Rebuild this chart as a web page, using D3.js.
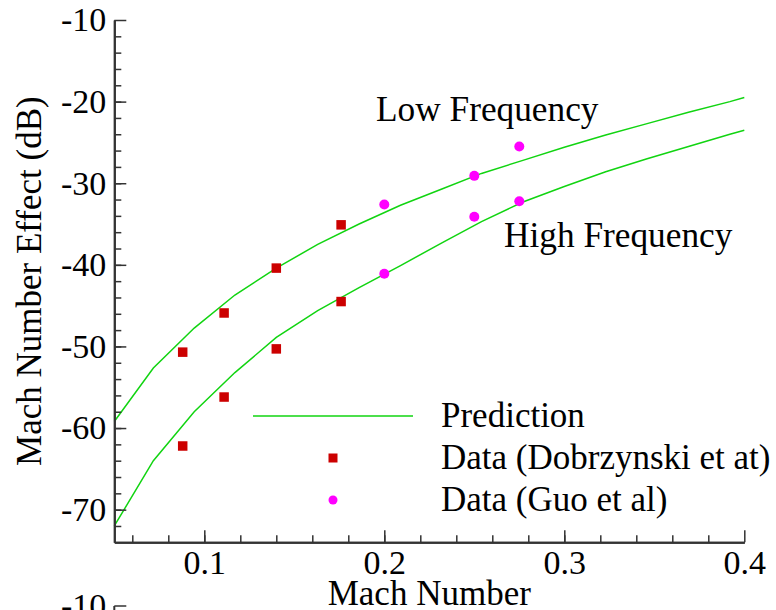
<!DOCTYPE html>
<html>
<head>
<meta charset="utf-8">
<script src="https://cdn.jsdelivr.net/npm/d3@7"></script>
<style>
  html, body { margin: 0; padding: 0; background: #fff; }
  svg { display: block; }
  text { font-family: "Liberation Serif", "Times New Roman", serif; fill: #000; }
</style>
</head>
<body>
<svg id="chart" width="776" height="610"></svg>
<script>
// Predicted Mach number effect (dB) for the two frequency bands
const machPrediction = [0.05, 0.0717, 0.0944, 0.117, 0.140, 0.163, 0.186, 0.209, 0.232, 0.254, 0.277, 0.300, 0.323, 0.346, 0.369, 0.392, 0.4];
const lowFreqPrediction = [-59.2, -52.65, -47.75, -43.7, -40.4, -37.5, -35.0, -32.7, -30.7, -28.8, -27.2, -25.6, -24.1, -22.7, -21.3, -20.0, -19.5];
const highFreqPrediction = [-72.0, -64.0, -58.0, -53.2, -48.9, -45.6, -42.8, -40.1, -37.3, -34.7, -32.3, -30.4, -28.6, -27.0, -25.5, -24.0, -23.5];

// Measurements, Dobrzynski et al
const machDobrzynski = [0.088, 0.111, 0.14, 0.176];
const lowFreqDobrzynski = [-50.7, -45.9, -40.4, -35.1];
const highFreqDobrzynski = [-62.2, -56.2, -50.3, -44.5];

// Measurements, Guo et al
const machGuo = [0.2, 0.25, 0.275];
const lowFreqGuo = [-32.6, -29.1, -25.5];
const highFreqGuo = [-41.1, -34.1, -32.2];

// Axis ticks
const xMajorTicks = [0.1, 0.2, 0.3, 0.4];
const xMinorTicks = d3.range(0.06, 0.399, 0.02);
const xTickLabels = ["0.1", "0.2", "0.3", "0.4"];
const yMajorTicks = [-10, -20, -30, -40, -50, -60, -70];
const yMinorTicks = d3.range(-12, -73, -2);
const yTickLabels = ["-10", "-20", "-30", "-40", "-50", "-60", "-70"];

const svg = d3.select("#chart");
const font = '"Liberation Serif", "Times New Roman", serif';
const axisColor = "#333";
const lineColor = "#11d411";
const squareColor = "#cc0000";
const dotColor = "#ff00ff";

const x = d3.scaleLinear().domain([0.05, 0.4]).range([114.3, 744.3]);
const y = d3.scaleLinear().domain([-74, -10]).range([542.3, 20]);

// Prediction curves
const line = d3.line().x(d => x(d[0])).y(d => y(d[1]));
[lowFreqPrediction, highFreqPrediction].forEach(vals => {
  svg.append("path")
    .datum(machPrediction.map((m, i) => [m, vals[i]]))
    .attr("d", line)
    .attr("fill", "none")
    .attr("stroke", lineColor)
    .attr("stroke-width", 1.5);
});

// Dobrzynski squares
const sq = 9.5;
[lowFreqDobrzynski, highFreqDobrzynski].forEach(vals => {
  svg.append("g").selectAll("rect")
    .data(machDobrzynski.map((m, i) => [m, vals[i]]))
    .join("rect")
    .attr("x", d => x(d[0]) - sq / 2)
    .attr("y", d => y(d[1]) - sq / 2)
    .attr("width", sq).attr("height", sq)
    .attr("fill", squareColor);
});

// Guo circles
[lowFreqGuo, highFreqGuo].forEach(vals => {
  svg.append("g").selectAll("circle")
    .data(machGuo.map((m, i) => [m, vals[i]]))
    .join("circle")
    .attr("cx", d => x(d[0]))
    .attr("cy", d => y(d[1]))
    .attr("r", 5)
    .attr("fill", dotColor);
});

function styleAxis(g) {
  g.attr("font-family", null);
  g.selectAll("path").attr("stroke", axisColor).attr("stroke-width", 2);
  g.selectAll("line").attr("stroke", axisColor).attr("stroke-width", 1.5);
  g.selectAll("text").style("font-family", font).attr("font-size", 34).attr("fill", "#000");
}

// X axis: minor ticks then major ticks (pointing into the plot)
svg.append("g").attr("transform", `translate(0,${y(-74)})`)
  .call(d3.axisBottom(x).tickValues(xMinorTicks).tickSizeInner(-7).tickSizeOuter(0).tickFormat(""))
  .call(styleAxis);
svg.append("g").attr("transform", `translate(0,${y(-74)})`)
  .call(d3.axisBottom(x).tickValues(xMajorTicks).tickSizeInner(-12).tickSizeOuter(0).tickPadding(8)
    .tickFormat((d, i) => xTickLabels[i]))
  .call(styleAxis)
  .call(g => g.selectAll("text").attr("dy", "0.71em").attr("y", 8));

// Y axis
svg.append("g").attr("transform", `translate(${x(0.05)},0)`)
  .call(d3.axisLeft(y).tickValues(yMinorTicks).tickSizeInner(-7).tickSizeOuter(0).tickFormat(""))
  .call(styleAxis);
svg.append("g").attr("transform", `translate(${x(0.05)},0)`)
  .call(d3.axisLeft(y).tickValues(yMajorTicks).tickSizeInner(-12).tickSizeOuter(0).tickPadding(8)
    .tickFormat((d, i) => yTickLabels[i]))
  .call(styleAxis);

// Axis titles
svg.append("text")
  .attr("x", (x(0.05) + x(0.4)) / 2).attr("y", 605)
  .attr("text-anchor", "middle").attr("font-size", 35)
  .text("Mach Number");
svg.append("text")
  .attr("transform", `translate(41,${(y(-10) + y(-74)) / 2}) rotate(-90)`)
  .attr("text-anchor", "middle").attr("font-size", 35)
  .text("Mach Number Effect (dB)");

// Band annotations
svg.append("text").attr("x", 376).attr("y", 121).attr("font-size", 35.3).text("Low Frequency");
svg.append("text").attr("x", 504).attr("y", 247).attr("font-size", 35.3).text("High Frequency");

// Legend
const legend = svg.append("g");
legend.append("line").attr("x1", 253).attr("x2", 413).attr("y1", 416).attr("y2", 416)
  .attr("stroke", lineColor).attr("stroke-width", 1.5);
legend.append("rect").attr("x", 333 - 4.5).attr("y", 458 - 4.5).attr("width", 9).attr("height", 9)
  .attr("fill", squareColor);
legend.append("circle").attr("cx", 333).attr("cy", 500).attr("r", 4.5).attr("fill", dotColor);
[["Prediction", 427], ["Data (Dobrzynski et at)", 469], ["Data (Guo et al)", 511]].forEach(([t, yy]) => {
  legend.append("text").attr("x", 441).attr("y", yy).attr("font-size", 35).text(t);
});

// Top of the next panel's axis, just below
const stub = svg.append("g");
stub.append("line").attr("x1", x(0.05)).attr("x2", x(0.05)).attr("y1", 606).attr("y2", 612)
  .attr("stroke", axisColor).attr("stroke-width", 2);
stub.append("line").attr("x1", x(0.05)).attr("x2", x(0.05) + 12).attr("y1", 606).attr("y2", 606)
  .attr("stroke", axisColor).attr("stroke-width", 1.5);
stub.append("text").attr("x", x(0.05) - 8).attr("y", 606).attr("dy", "0.32em")
  .attr("text-anchor", "end").attr("font-size", 34).text("-10");
</script>
</body>
</html>
